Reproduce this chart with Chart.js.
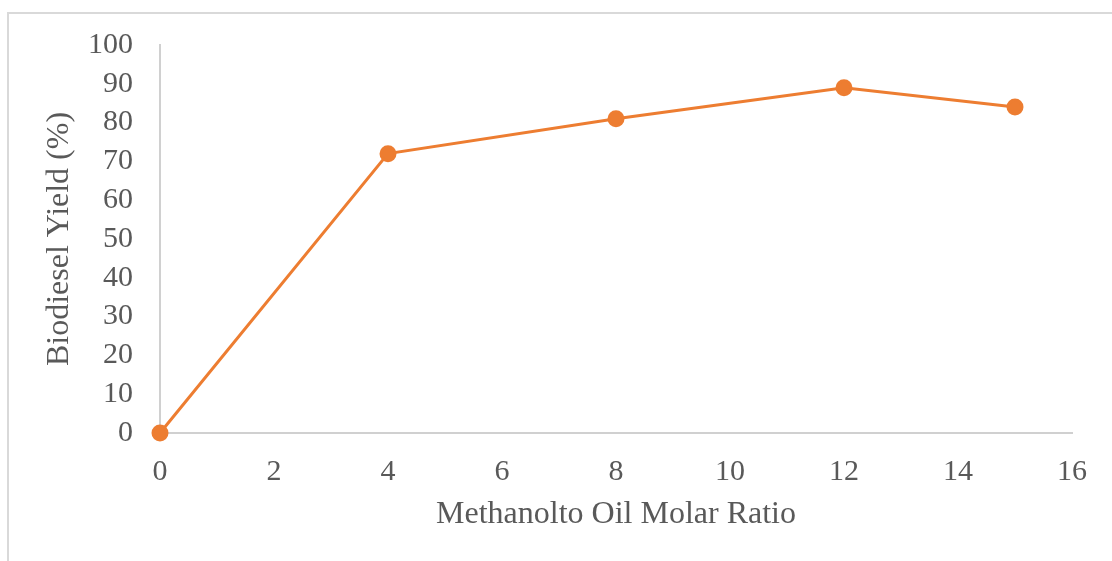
<!DOCTYPE html>
<html>
<head>
<meta charset="utf-8">
<script src="https://cdn.jsdelivr.net/npm/chart.js@4"></script>
<style>
  html, body { margin: 0; padding: 0; background: #fff; }
  .wrap { position: relative; width: 1112px; height: 561px; overflow: hidden; }
  .frame { position: absolute; left: 7px; top: 12px; width: 1200px; height: 700px;
           border-left: 2px solid #d9d9d9; border-top: 2px solid #d9d9d9; }
  canvas { position: absolute; left: 0; top: 0; }
</style>
</head>
<body>
<div class="wrap">
  <div class="frame"></div>
  <canvas id="myChart" width="1112" height="561"></canvas>
</div>
<script>
const molarRatio = [0, 4, 8, 12, 15];
const yieldValues = [0, 72, 81, 89, 84];
const xTitle = "Methanolto Oil Molar Ratio";
const yTitle = "Biodiesel Yield (%)";

const textColor = "#595959";
const axisColor = "#d0d0d0";
const lineColor = "#ED7D31";
const fontFamily = "'Liberation Serif', 'Times New Roman', serif";

const points = molarRatio.map((x, i) => ({ x: x, y: yieldValues[i] }));

const ctx = document.getElementById('myChart').getContext('2d');
new Chart(ctx, {
  type: 'scatter',
  data: {
    datasets: [{
      data: points,
      showLine: true,
      clip: false,
      borderColor: lineColor,
      backgroundColor: lineColor,
      borderWidth: 3,
      pointRadius: 7,
      pointHoverRadius: 7
    }]
  },
  options: {
    responsive: false,
    animation: false,
    layout: { padding: { left: 0, top: 45, right: 40, bottom: 0 } },
    plugins: { legend: { display: false }, tooltip: { enabled: false } },
    scales: {
      x: {
        type: 'linear',
        min: 0,
        max: 16,
        grid: { display: false, drawTicks: false },
        border: { color: axisColor, width: 2 },
        ticks: { stepSize: 2, padding: 21, autoSkip: false, color: textColor,
                 font: { family: fontFamily, size: 30 } },
        title: { display: true, text: xTitle, color: textColor, padding: { top: 0, bottom: 27 },
                 font: { family: fontFamily, size: 32 } },
        afterFit: (scale) => { scale.height = 128; }
      },
      y: {
        min: 0,
        max: 100,
        grid: { display: false, drawTicks: false },
        border: { color: axisColor, width: 2 },
        ticks: { stepSize: 10, padding: 27, autoSkip: false, color: textColor,
                 font: { family: fontFamily, size: 30 } },
        title: { display: true, text: yTitle, color: textColor, padding: { top: 40, bottom: 0 },
                 font: { family: fontFamily, size: 32 } },
        afterFit: (scale) => { scale.width = 160; }
      }
    }
  }
});
</script>
</body>
</html>
